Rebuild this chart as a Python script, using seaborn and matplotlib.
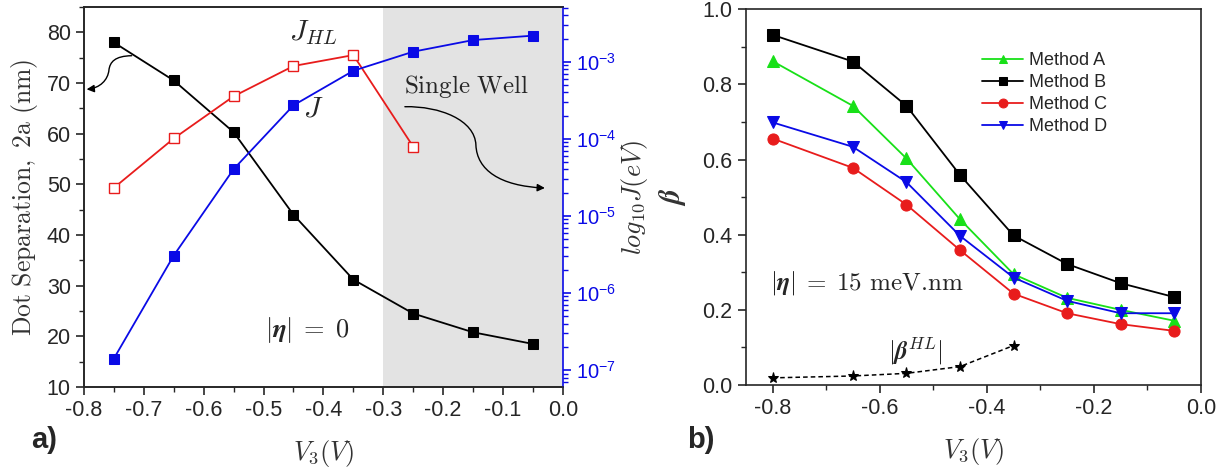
import numpy as np
import pandas as pd
import matplotlib
matplotlib.use("Agg")
import matplotlib.pyplot as plt
import seaborn as sns
from matplotlib.path import Path
from matplotlib.patches import FancyArrowPatch
from matplotlib.ticker import MultipleLocator, LogLocator, NullFormatter

# ---------------- data ----------------
v3_a = [-0.75, -0.65, -0.55, -0.45, -0.35, -0.25, -0.15, -0.05]
dot_sep = [78.0, 70.5, 60.3, 44.0, 31.2, 24.5, 20.8, 18.5]
v3_hl = [-0.75, -0.65, -0.55, -0.45, -0.35, -0.25]
j_hl = [2.31e-5, 1.01e-4, 3.56e-4, 8.8e-4, 1.22e-3, 7.9e-5]
j_ex = [1.41e-7, 3.06e-6, 4.04e-5, 2.72e-4, 7.64e-4, 1.35e-3, 1.91e-3, 2.18e-3]

v3_b = [-0.8, -0.65, -0.55, -0.45, -0.35, -0.25, -0.15, -0.05]
method_a = [0.862, 0.743, 0.603, 0.441, 0.295, 0.232, 0.200, 0.171]
method_b = [0.932, 0.861, 0.743, 0.559, 0.398, 0.322, 0.271, 0.234]
method_c = [0.656, 0.578, 0.480, 0.359, 0.243, 0.191, 0.162, 0.144]
method_d = [0.699, 0.634, 0.540, 0.397, 0.286, 0.224, 0.191, 0.191]
v3_bhl = [-0.8, -0.65, -0.55, -0.45, -0.35]
beta_hl = [0.019, 0.024, 0.031, 0.049, 0.105]

# ---------------- style ----------------
sns.set_style("ticks")
plt.rcParams["font.family"] = ["Liberation Sans", "DejaVu Sans"]
plt.rcParams["mathtext.fontset"] = "custom"
plt.rcParams["mathtext.rm"] = "Liberation Sans"
plt.rcParams["mathtext.it"] = "Liberation Sans:italic"
plt.rcParams["mathtext.bf"] = "Liberation Sans:bold"
plt.rcParams["axes.linewidth"] = 1.2
plt.rcParams["axes.unicode_minus"] = False

GREEN = "#18e018"
RED = "#e81c1c"
BLUE = "#0a0ae6"
LABEL_GREY = "#333333"

fig = plt.figure(figsize=(12.29, 4.67), dpi=100)
ax = fig.add_axes([0.0683, 0.1713, 0.3897, 0.8137])
ax2 = ax.twinx()
bx = fig.add_axes([0.6068, 0.1756, 0.3704, 0.8045])

# ---------------- panel a ----------------
ax.axvspan(-0.3, 0.0, color="#e3e3e3", zorder=0, lw=0)
sns.lineplot(x=v3_a, y=dot_sep, ax=ax, color="black", marker="s", markersize=7,
             markeredgecolor="black", lw=1.3, sort=False)
sns.lineplot(x=v3_hl, y=j_hl, ax=ax2, color=RED, marker="s", markersize=7,
             markerfacecolor="white", markeredgecolor=RED, markeredgewidth=1.0,
             lw=1.3, sort=False)
sns.lineplot(x=v3_a, y=j_ex, ax=ax2, color=BLUE, marker="s", markersize=7,
             markeredgecolor=BLUE, lw=1.3, sort=False)

ax.set_xlim(-0.8, 0.0)
ax.set_ylim(10, 85)
ax2.set_yscale("log")
ax2.set_ylim(10 ** -7.22, 10 ** -2.29)
ax.xaxis.set_major_locator(MultipleLocator(0.1))
ax.xaxis.set_minor_locator(MultipleLocator(0.05))
ax.yaxis.set_major_locator(MultipleLocator(10))
ax.yaxis.set_minor_locator(MultipleLocator(5))
ax.xaxis.set_major_formatter(matplotlib.ticker.FuncFormatter(lambda v, p: f"{v:.1f}".replace("-0.0", "0.0")))
ax.tick_params(axis="both", which="major", labelsize=15.5, length=6, width=1.2, direction="out")
ax.tick_params(axis="both", which="minor", length=3.5, width=1.0, direction="out")
ax2.yaxis.set_major_locator(LogLocator(base=10, numticks=10))
ax2.yaxis.set_minor_locator(LogLocator(base=10, subs=np.arange(2, 10), numticks=20))
ax2.yaxis.set_minor_formatter(NullFormatter())
ax2.tick_params(axis="y", which="major", labelsize=14.5, colors=BLUE, length=6, width=1.2)
ax2.tick_params(axis="y", which="minor", colors=BLUE, length=3.5, width=1.0)
ax2.spines["right"].set_color(BLUE)
ax2.spines["right"].set_linewidth(1.2)
ax.spines["top"].set_visible(True)
ax.spines["right"].set_visible(False)

ax.set_xlabel(r"$V_3(V)$", fontsize=19, color=LABEL_GREY, math_fontfamily="cm", labelpad=12)
ax.set_ylabel(r"$\mathrm{Dot\ Separation,\ 2a\ (nm)}$", fontsize=18.5, color=LABEL_GREY,
              math_fontfamily="cm", labelpad=5)
ax2.set_ylabel(r"$log_{10}J(eV)$", fontsize=19, color=LABEL_GREY, math_fontfamily="cm",
               rotation=90, labelpad=2)

ax.text(0.478, 0.932, r"$J_{HL}$", transform=ax.transAxes, fontsize=21, ha="center",
        va="center", math_fontfamily="cm")
ax.text(0.478, 0.734, r"$J$", transform=ax.transAxes, fontsize=21, ha="center",
        va="center", math_fontfamily="cm")
ax.text(0.668, 0.790, r"$\mathrm{Single\ Well}$", transform=ax.transAxes, fontsize=18,
        ha="left", va="center", math_fontfamily="cm")
ax.text(0.378, 0.150, r"$|\boldsymbol{\eta}|\;=\;0$", transform=ax.transAxes, fontsize=19,
        ha="left", va="center", math_fontfamily="cm")


def s_arrow(axis, pts):
    codes = [Path.MOVETO] + [Path.CURVE4] * (len(pts) - 1)
    path = Path(pts, codes)
    arr = FancyArrowPatch(path=path, arrowstyle="-|>", mutation_scale=11, lw=1.0,
                          color="black", transform=axis.transAxes, zorder=5)
    axis.add_patch(arr)


s_arrow(ax, [(0.0996, 0.8718), (0.0647, 0.8711), (0.0543, 0.8553), (0.0522, 0.8342),
             (0.0501, 0.8079), (0.0334, 0.7868), (0.0056, 0.7834)])
s_arrow(ax, [(0.6701, 0.7376), (0.7432, 0.7395), (0.8163, 0.7026), (0.8184, 0.6368),
             (0.8205, 0.5711), (0.8685, 0.5289), (0.9624, 0.5237)])

# ---------------- panel b ----------------
series = [("Method A", method_a, GREEN, "^"),
          ("Method B", method_b, "black", "s"),
          ("Method C", method_c, RED, "o"),
          ("Method D", method_d, BLUE, "v")]
for name, vals, col, mk in series:
    sns.lineplot(x=v3_b, y=vals, ax=bx, color=col, marker=mk, markersize=8,
                 markeredgecolor=col, lw=1.3, sort=False, label=name)
sns.lineplot(x=v3_bhl, y=beta_hl, ax=bx, color="black", marker="*", markersize=8,
             markeredgecolor="black", lw=1.1, linestyle=(0, (3, 2)), sort=False)

bx.set_xlim(-0.85, 0.0)
bx.set_ylim(0.0, 1.0)
bx.xaxis.set_major_locator(MultipleLocator(0.2))
bx.xaxis.set_minor_locator(MultipleLocator(0.1))
bx.yaxis.set_major_locator(MultipleLocator(0.2))
bx.yaxis.set_minor_locator(MultipleLocator(0.1))
bx.xaxis.set_major_formatter(matplotlib.ticker.FuncFormatter(lambda v, p: f"{v:.1f}".replace("-0.0", "0.0")))
bx.tick_params(axis="both", which="major", labelsize=15.5, length=6, width=1.2, direction="out")
bx.tick_params(axis="both", which="minor", length=3.5, width=1.0, direction="out")
bx.spines["top"].set_visible(True)
bx.spines["right"].set_visible(True)

bx.set_xlabel(r"$V_3(V)$", fontsize=19, color=LABEL_GREY, math_fontfamily="cm", labelpad=12)
bx.set_ylabel(r"$\boldsymbol{\beta}$", fontsize=21, color=LABEL_GREY, math_fontfamily="cm",
              labelpad=10)

bx.text(0.053, 0.2715, r"$|\boldsymbol{\eta}|\;=\;15$ meV.nm", transform=bx.transAxes,
        fontsize=18, ha="left", va="center", math_fontfamily="cm",
        family=["cmr10", "DejaVu Serif"])
bx.text(0.312, 0.090, r"$|\boldsymbol{\beta}^{HL}|$", transform=bx.transAxes,
        fontsize=18, ha="left", va="center", math_fontfamily="cm")

leg = bx.legend(loc="upper left", bbox_to_anchor=(0.503, 0.906), frameon=False,
                fontsize=13, handlelength=2.3, handletextpad=0.3, labelspacing=0.28,
                borderaxespad=0, markerscale=0.8)

fig.text(0.025, 0.058, "a)", fontsize=21, fontweight="bold", ha="left", va="center")
fig.text(0.559, 0.058, "b)", fontsize=21, fontweight="bold", ha="left", va="center")

fig.savefig("out.png", dpi=100)
